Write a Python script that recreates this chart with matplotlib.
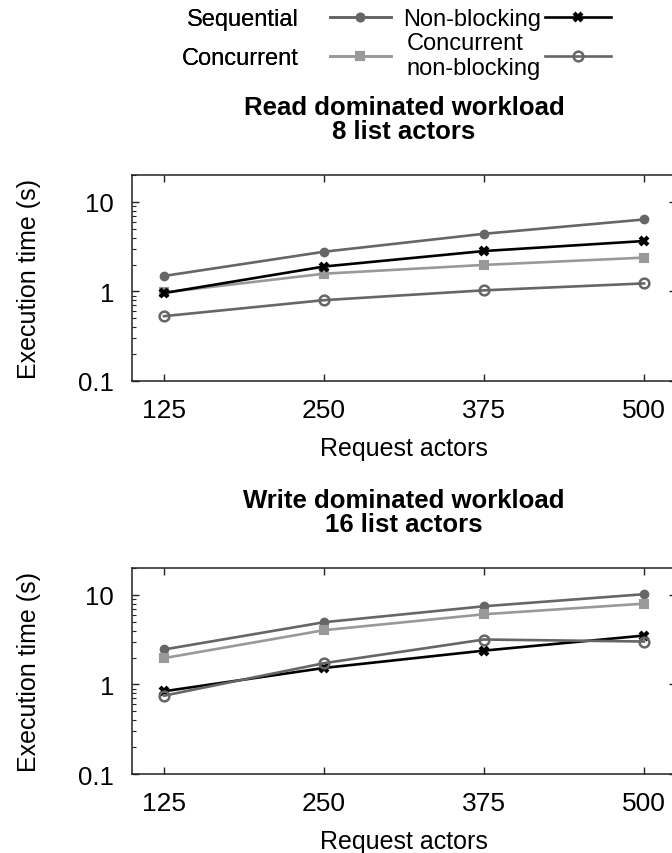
import matplotlib
matplotlib.use("Agg")
import matplotlib.pyplot as plt
from matplotlib.ticker import FixedLocator, FixedFormatter, LogLocator, NullFormatter

plt.rcParams['font.family'] = ['Liberation Sans', 'DejaVu Sans']

# Data
request_actors = [125, 250, 375, 500]
x_labels = ['125', '250', '375', '500']

read_sequential = [1.49, 2.78, 4.41, 6.37]
read_concurrent = [0.975, 1.58, 1.98, 2.39]
read_nonblocking = [0.96, 1.90, 2.83, 3.66]
read_conc_nonblocking = [0.53, 0.80, 1.03, 1.23]

write_sequential = [2.46, 4.96, 7.48, 10.2]
write_concurrent = [1.97, 4.04, 6.09, 8.0]
write_nonblocking = [0.84, 1.53, 2.39, 3.52]
write_conc_nonblocking = [0.75, 1.73, 3.18, 3.02]

titles = ["Read dominated workload\n8 list actors",
          "Write dominated workload\n16 list actors"]

# series styles (label, color, marker, markersize, facecolor, edgewidth)
styles = [
    ("Sequential", "#666666", "o", 5.5, "#666666", 1.5),
    ("Concurrent", "#999999", "s", 6, "#999999", 1.5),
    ("Non-blocking", "#000000", "x", 6, "#000000", 3.0),
    ("Concurrent\nnon-blocking", "#666666", "o", 7, "none", 1.8),
]

fig = plt.figure(figsize=(6.72, 8.54), dpi=100)
ax_top = fig.add_axes([0.1964, 0.5527, 0.8096, 0.2412])
ax_bot = fig.add_axes([0.1964, 0.0925, 0.8096, 0.2412])

panels = [
    (ax_top, [read_sequential, read_concurrent, read_nonblocking, read_conc_nonblocking], titles[0]),
    (ax_bot, [write_sequential, write_concurrent, write_nonblocking, write_conc_nonblocking], titles[1]),
]

handles = []
for ax, series, title in panels:
    hs = []
    for vals, (label, color, marker, ms, fc, mew) in zip(series, styles):
        h, = ax.plot(request_actors, vals, color=color, marker=marker, markersize=ms,
                     markerfacecolor=fc, markeredgecolor=color, markeredgewidth=mew,
                     linewidth=1.9, label=label)
        hs.append(h)
    handles = hs

    ax.set_yscale('log')
    ax.set_ylim(0.1, 20)
    ax.set_xlim(100, 525)
    ax.xaxis.set_major_locator(FixedLocator(request_actors))
    ax.xaxis.set_major_formatter(FixedFormatter(x_labels))
    ax.yaxis.set_major_locator(FixedLocator([0.1, 1, 10]))
    ax.yaxis.set_major_formatter(FixedFormatter(['0.1', '1', '10']))
    ax.yaxis.set_minor_locator(LogLocator(base=10, subs=range(2, 10)))
    ax.yaxis.set_minor_formatter(NullFormatter())
    ax.tick_params(which='both', direction='in', top=True, right=True, color='#222222')
    ax.tick_params(which='major', length=5, width=1)
    ax.tick_params(which='minor', length=3, width=0.8)
    ax.tick_params(axis='x', which='major', labelsize=19, pad=12)
    ax.tick_params(axis='y', which='major', labelsize=18.5, pad=13)
    ax.tick_params(axis='x', which='minor', top=False, bottom=False)
    for sp in ax.spines.values():
        sp.set_linewidth(1.1)
        sp.set_color('#222222')
    ax.set_xlabel("Request actors", fontsize=18, labelpad=10)
    ax.set_ylabel("Execution time (s)", fontsize=18, labelpad=27)
    ax.set_title(title, fontsize=18.5, fontweight='bold', pad=27, linespacing=0.95)

# gnuplot-style key: text right-justified before the sample, two columns
leg1 = fig.legend(handles=[handles[0], handles[1]], loc='upper left',
                  bbox_to_anchor=(182 / 672, 1 - 9 / 854), frameon=False, fontsize=17,
                  markerfirst=False, handlelength=2.6, handletextpad=1.3,
                  labelspacing=0.72, borderpad=0, borderaxespad=0)
fig.add_artist(leg1)
leg2 = fig.legend(handles=[handles[2], handles[3]], loc='upper left',
                  bbox_to_anchor=(403 / 672, 1 - 9 / 854), frameon=False, fontsize=17,
                  markerfirst=False, handlelength=2.8, handletextpad=0.15,
                  labelspacing=0.08, borderpad=0, borderaxespad=0)
for t in leg2.get_texts():
    t.set_multialignment('left')

fig.savefig("out.png", dpi=100)
